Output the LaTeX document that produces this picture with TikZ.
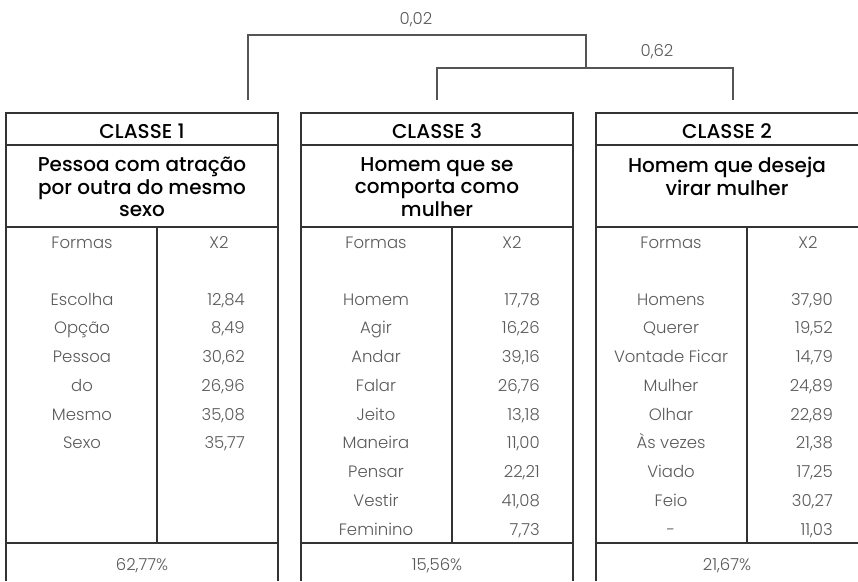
\documentclass[tikz,border=0pt]{standalone}
\usepackage{fontspec}
\setmainfont{Poppins}[UprightFont=* Light, BoldFont=* Medium]
\definecolor{frame}{HTML}{333333}
\definecolor{dend}{HTML}{555555}
\definecolor{txt}{HTML}{5A5A5A}
\begin{document}
\begin{tikzpicture}[x=1pt,y=-1pt,
  frameline/.style={draw=frame,line width=1.5pt},
  dendline/.style={draw=dend,line width=1.3pt},
  light/.style={text=txt,font=\fontsize{16.5}{20}\selectfont,anchor=base,inner sep=0pt},
  val/.style={light,anchor=base east},
  head/.style={text=black,font=\bfseries\fontsize{20}{23}\selectfont,anchor=base,inner sep=0pt},
  ttl/.style={text=black,font=\bfseries\fontsize{20}{22.5}\selectfont,anchor=north,align=center,inner sep=0pt}]
\useasboundingbox (0,0) rectangle (858,581);
% dendrogram
\coordinate (l1) at (248,100);
\coordinate (t1) at (248,35);
\coordinate (t2) at (586,35);
\coordinate (m2) at (586,68);
\coordinate (l3) at (437,100);
\coordinate (t3) at (437,68);
\coordinate (t4) at (733,68);
\coordinate (l2) at (733,100);
\draw[dendline] (l1) -- (t1) -- (t2) -- (m2);
\draw[dendline] (l3) -- (t3) -- (t4) -- (l2);
\node[light] (d1) at (416,24) {0,02};
\node[light] (d2) at (657,56) {0,62};
% box 1
\draw[frameline] (6,581) -- (6,113) -- (278,113) -- (278,581);
\draw[frameline] (6,145) -- (278,145) (6,227) -- (278,227) (6,543) -- (278,543) (157,227) -- (157,543);
% box 3 (middle)
\draw[frameline] (301,581) -- (301,113) -- (573,113) -- (573,581);
\draw[frameline] (301,145) -- (573,145) (301,227) -- (573,227) (301,543) -- (573,543) (452,227) -- (452,543);
% box 2 (right)
\draw[frameline] (596,581) -- (596,113) -- (858,113);
\draw[frameline] (596,145) -- (858,145) (596,227) -- (858,227) (596,543) -- (858,543) (747,227) -- (747,543);
% headers
\node[head] (h1) at (142,138.5) {CLASSE 1};
\node[head] (h3) at (437,138.5) {CLASSE 3};
\node[head] (h2) at (727,138.5) {CLASSE 2};
\node[ttl] (s1) at (142,157) {Pessoa com atração\\por outra do mesmo\\sexo};
\node[ttl] (s3) at (437,157) {Homem que se\\comporta como\\mulher};
\node[ttl] (s2) at (727,157) {Homem que deseja\\virar mulher};
% column heads
\node[light] (f1) at (82,248) {Formas};
\node[light] (x1) at (219,248) {X2};
\node[light] (f3) at (376,248) {Formas};
\node[light] (x3) at (512,248) {X2};
\node[light] (f2) at (671,248) {Formas};
\node[light] (x2) at (808,248) {X2};
% rows
\foreach \w/\v [count=\i from 0] in {Escolha/{12,84},Opção/{8,49},Pessoa/{30,62},do/{26,96},Mesmo/{35,08},Sexo/{35,77}}{
  \node[light] (a\i) at (82,{305+28.75*\i}) {\w};
  \node[val] (av\i) at (245,{305+28.75*\i}) {\v};
}
\foreach \w/\v [count=\i from 0] in {Homem/{17,78},Agir/{16,26},Andar/{39,16},Falar/{26,76},Jeito/{13,18},Maneira/{11,00},Pensar/{22,21},Vestir/{41,08},Feminino/{7,73}}{
  \node[light] (b\i) at (376,{305+28.75*\i}) {\w};
  \node[val] (bv\i) at (540,{305+28.75*\i}) {\v};
}
\foreach \w/\v [count=\i from 0] in {Homens/{37,90},Querer/{19,52},Vontade Ficar/{14,79},Mulher/{24,89},Olhar/{22,89},Às vezes/{21,38},Viado/{17,25},Feio/{30,27},-/{11,03}}{
  \node[light] (c\i) at (671,{305+28.75*\i}) {\w};
  \node[val] (cv\i) at (833,{305+28.75*\i}) {\v};
}
\node[light] (p1) at (142,570) {62,77\%};
\node[light] (p3) at (437,570) {15,56\%};
\node[light] (p2) at (727,570) {21,67\%};
\end{tikzpicture}
\end{document}
